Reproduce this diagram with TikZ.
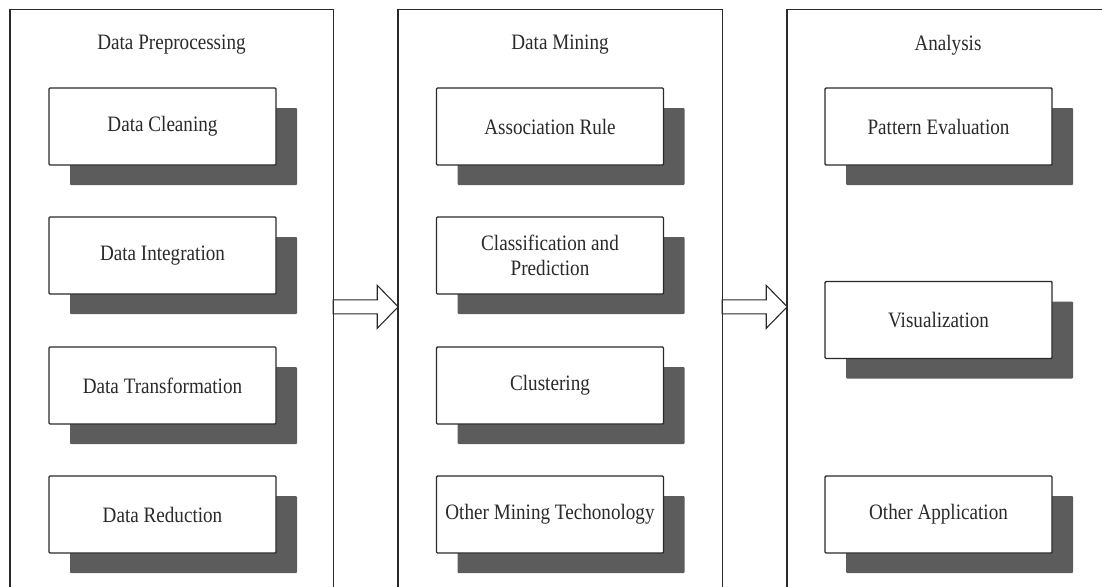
\documentclass[tikz,border=0pt]{standalone}
\usepackage{fontspec}
\setmainfont{Liberation Serif}[FakeStretch=0.87]
\usetikzlibrary{shadows,calc}
\definecolor{shade}{HTML}{5C5C5C}
\definecolor{ink}{HTML}{2A2A2A}
\tikzset{
  panel/.style={draw=none, minimum width=#1, minimum height=600, inner sep=0},
  frame/.style={draw=ink, line width=1.4pt},
  title/.style={text=ink, font=\fontsize{22}{25}\selectfont},
  stage/.style={draw=ink, fill=white, line width=1.4pt, rounded corners=1pt,
    minimum width=227, minimum height=77, inner sep=0, align=center,
    text=ink, font=\fontsize{22}{25}\selectfont,
    drop shadow={shadow xshift=21pt, shadow yshift=-20pt, fill=shade, opacity=1}},
  blockarrow/.style={draw=ink, fill=white, line width=1.1pt, line join=miter}
}
\begin{document}
\begin{tikzpicture}[x=1pt, y=-1pt]
\useasboundingbox (0,0) rectangle (1102,586);
\clip (0,0) rectangle (1102,586);

% three stage panels, open at the bottom
\node[panel=323] (pp) at (171.5,310) {};
\node[panel=324] (dm) at (560,310) {};
\node[panel=324] (an) at (949,310) {};
\foreach \p in {pp,dm,an}
  \draw[frame] (\p.south west) -- (\p.north west) -- (\p.north east) -- (\p.south east);

\node[title] (ppt) at (171.5,45) {Data Preprocessing};
\node[title] (dmt) at (560,45) {Data Mining};
\node[title] (ant) at (948,45) {Analysis};

% preprocessing steps
\node[stage] (clean) at (162.5,126.5) {Data Cleaning};
\node[stage] (integ) at (162.5,255.5) {Data Integration};
\node[stage] (trans) at (162.5,385.5) {Data Transformation};
\node[stage] (reduc) at (162.5,514.5) {Data Reduction};

% mining techniques
\node[stage] (assoc) at (550,126.5) {Association Rule};
\node[stage] (class) at (550,255.5) {Classification and\\Prediction};
\node[stage] (clust) at (550,385.5) {Clustering};
\node[stage] (other) at (550,514.5) {Other Mining Techonology};

% analysis
\node[stage] (patt) at (938.5,126.5) {Pattern Evaluation};
\node[stage] (visu) at (938.5,320) {Visualization};
\node[stage] (appl) at (938.5,514.5) {Other Application};

% hollow arrows between panels
\coordinate (a1) at ($(pp.north east)+(0,297)$);
\coordinate (a2) at ($(dm.north east)+(0,297)$);
\foreach \a in {a1,a2}
  \draw[blockarrow] ($(\a)+(0,-7)$) -- ++(44,0) -- ++(0,-14.5) -- ++(21,21.5)
    -- ++(-21,21.5) -- ++(0,-14.5) -- ++(-44,0) -- cycle;
\end{tikzpicture}
\end{document}
